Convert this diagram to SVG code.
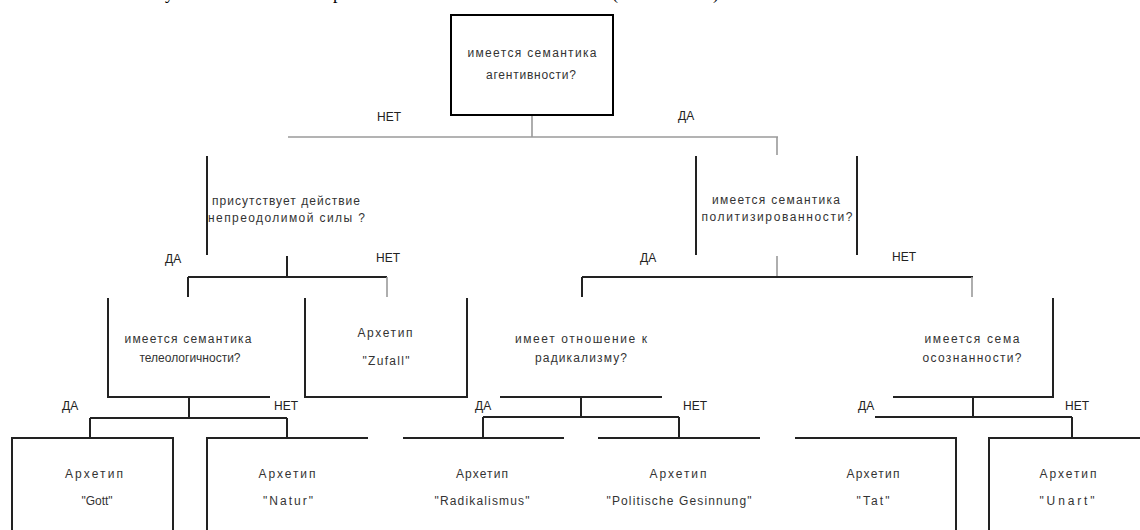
<svg xmlns="http://www.w3.org/2000/svg" width="1140" height="530" viewBox="0 0 1140 530">
<style>
text{font-family:"Liberation Sans","DejaVu Sans",sans-serif;font-size:12px;fill:#333}
.c{text-anchor:middle}
.lbl{font-size:12px;fill:#222}
.top{font-family:"Liberation Serif",serif;font-size:18px;fill:#000}
.d{stroke:#222;stroke-width:2;fill:none}
.g{stroke:#9a9a9a;stroke-width:1.6;fill:none}
</style>
<rect width="1140" height="530" fill="#fff"/>
<g id="cut-line">
<text class="top" x="165" y="-1">у</text>
<text class="top" x="333" y="-1">р</text>
<text class="top" x="612" y="-1">(</text>
<text class="top" x="713" y="-1">)</text>
</g>
<g id="connectors">
<path class="g" d="M532 115V137M288 137H778M777 137V155"/>
<path class="d" d="M287 256V277M188 277H387M188 277V297"/>
<path class="g" d="M387 277V297"/>
<path class="g" d="M777 256V277"/>
<path class="d" d="M582 277H973M582 277V297"/>
<path class="g" d="M972 277V297"/>
<path class="d" d="M189 397V418M90 418H287M90 418V438M287 418V438"/>
<path class="d" d="M581 397V417M483 417H679M483 417V438M679 417V438"/>
<path class="d" d="M973 397V417M875 417H1072M1072 417V438"/>
<text class="lbl" x="377" y="121">НЕТ</text>
<text class="lbl" x="678" y="120">ДА</text>
<text class="lbl" x="165" y="263">ДА</text>
<text class="lbl" x="376" y="262">НЕТ</text>
<text class="lbl" x="640" y="262">ДА</text>
<text class="lbl" x="892" y="261">НЕТ</text>
<text class="lbl" x="62" y="410">ДА</text>
<text class="lbl" x="274" y="410">НЕТ</text>
<text class="lbl" x="475" y="410">ДА</text>
<text class="lbl" x="683" y="410">НЕТ</text>
<text class="lbl" x="858" y="410">ДА</text>
<text class="lbl" x="1065" y="410">НЕТ</text>
</g>
<g id="root">
<rect x="451" y="15" width="162" height="100" fill="#fff" stroke="#000" stroke-width="2"/>
<text class="c" x="532" y="57" textLength="129" lengthAdjust="spacing">имеется семантика</text>
<text class="c" x="531" y="79" textLength="90" lengthAdjust="spacing">агентивности?</text>
</g>
<g id="q-force">
<path class="d" d="M207 156V255"/>
<text x="212" y="205" textLength="148" lengthAdjust="spacing">присутствует действие</text>
<text x="208" y="222" textLength="157" lengthAdjust="spacing">непреодолимой силы ?</text>
</g>
<g id="q-polit">
<path class="d" d="M696 156V255M857 156V255"/>
<text class="c" x="776" y="204" textLength="128" lengthAdjust="spacing">имеется семантика</text>
<text class="c" x="777" y="221" textLength="151" lengthAdjust="spacing">политизированности?</text>
</g>
<g id="q-teleo">
<path class="d" d="M108 298V397H270"/>
<text class="c" x="188" y="343" textLength="127" lengthAdjust="spacing">имеется семантика</text>
<text class="c" x="190" y="362">телеологичности?</text>
</g>
<g id="zufall">
<path class="d" d="M305 298V397H467V298"/>
<text class="c" x="385" y="337" textLength="55" lengthAdjust="spacing">Архетип</text>
<text class="c" x="386" y="365" textLength="47" lengthAdjust="spacing">"Zufall"</text>
</g>
<g id="q-radical">
<path class="d" d="M500 397H662"/>
<text class="c" x="581" y="343" textLength="132" lengthAdjust="spacing">имеет отношение к</text>
<text class="c" x="581" y="362" textLength="92" lengthAdjust="spacing">радикализму?</text>
</g>
<g id="q-conscious">
<path class="d" d="M893 397H1053V298"/>
<text class="c" x="972" y="343" textLength="95" lengthAdjust="spacing">имеется сема</text>
<text class="c" x="972" y="362" textLength="99" lengthAdjust="spacing">осознанности?</text>
</g>
<g id="gott">
<path class="d" d="M12 530V438H173V530"/>
<text class="c" x="94" y="478" textLength="58" lengthAdjust="spacing">Архетип</text>
<text class="c" x="97" y="505">"Gott"</text>
</g>
<g id="natur">
<path class="d" d="M207 530V438H368"/>
<text class="c" x="287" y="478" textLength="57" lengthAdjust="spacing">Архетип</text>
<text class="c" x="288" y="505" textLength="50" lengthAdjust="spacing">"Natur"</text>
</g>
<g id="radikalismus">
<path class="d" d="M403 438H564"/>
<text class="c" x="482" y="478" textLength="52" lengthAdjust="spacing">Архетип</text>
<text class="c" x="482" y="505" textLength="95" lengthAdjust="spacing">"Radikalismus"</text>
</g>
<g id="gesinnung">
<path class="d" d="M598 438H760"/>
<text class="c" x="678" y="478" textLength="57" lengthAdjust="spacing">Архетип</text>
<text class="c" x="679" y="505" textLength="145" lengthAdjust="spacing">"Politische Gesinnung"</text>
</g>
<g id="tat">
<path class="d" d="M795 438H956V530"/>
<text class="c" x="873" y="478" textLength="53" lengthAdjust="spacing">Архетип</text>
<text class="c" x="873" y="505" textLength="33" lengthAdjust="spacing">"Tat"</text>
</g>
<g id="unart">
<path class="d" d="M989 530V438H1140"/>
<text class="c" x="1068" y="478" textLength="57" lengthAdjust="spacing">Архетип</text>
<text class="c" x="1067" y="505" textLength="55" lengthAdjust="spacing">"Unart"</text>
</g>
</svg>
